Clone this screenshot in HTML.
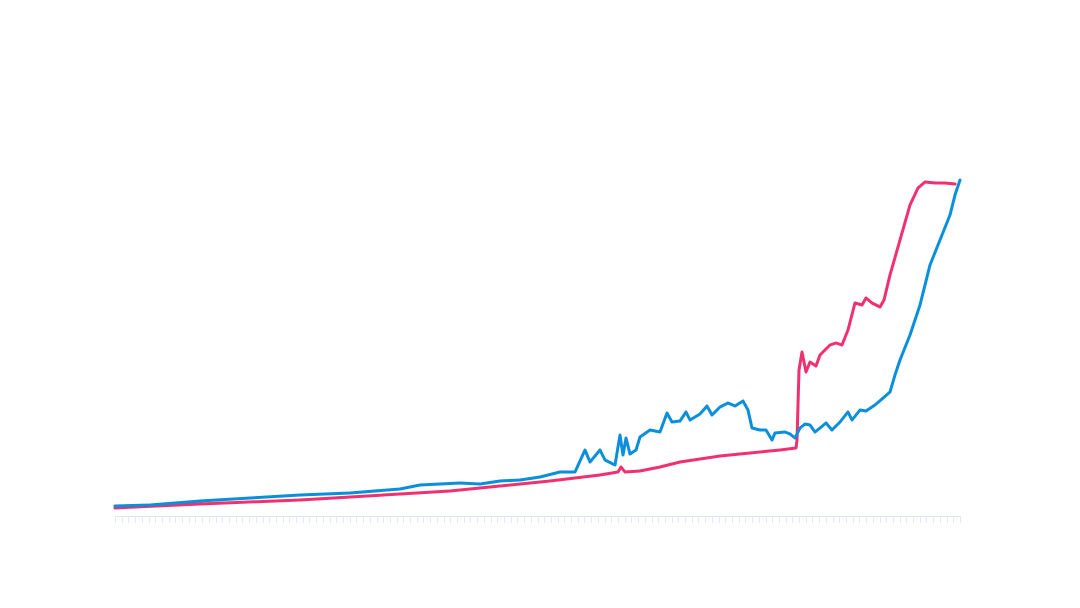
<!DOCTYPE html>
<html><head><meta charset="utf-8"><style>
html,body{margin:0;padding:0;background:#fff;}
svg{display:block;font-family:"Liberation Sans",sans-serif;}
</style></head><body>
<svg id="chart" width="1080" height="608">
  <g id="axis"></g>
  <g id="series"></g>
</svg>
<script>
const blueT = [0,35,85,135,185,235,285,305,325,345,365,385,405,425,445,460,470,475,485,490,500,505,508,511,515,521,525,535,545,552,557,565,571,575,585,592,597,605,613,620,628,633,637,645,651,657,660,670,675,680,685,690,695,700,705,711,717,725,733,737,745,751,760,767,775,780,785,795,805,815,825,835,840,845];
const blueV = [10,11,15,18,21,23,27,31,32,33,32,35,36,39,44,44,66,54,66,56,51,81,61,78,62,66,79,86,84,103,94,95,104,96,102,110,101,109,113,110,115,106,88,86,86,76,83,84,82,78,88,92,91,84,88,93,86,94,104,96,106,105,111,117,124,141,156,181,211,251,276,301,321,336];
const redT = [0,85,185,285,335,385,435,485,503,506,510,525,545,565,585,605,625,645,665,681,682,684,687,691,695,701,705,715,721,727,733,740,747,751,757,765,769,775,785,795,803,810,820,830,840];
const redV = [8,12,16,22,25,30,35,41,44,49,44,45,49,54,57,60,62,64,66,68,76,146,164,144,154,150,161,171,173,171,186,213,211,218,213,209,216,241,276,311,328,334,333,333,332];
const tMax = 845, vMax = 340;
const x0 = 115, x1 = 960, yBase = 516, yTop = 176;
const xS = t => x0 + (t / tMax) * (x1 - x0);
const yS = v => yBase - (v / vMax) * (yBase - yTop);
const NS = "http://www.w3.org/2000/svg";
const axis = document.getElementById('axis');
const bl = document.createElementNS(NS,'line');


bl.setAttribute('x1',x0);bl.setAttribute('x2',x1);bl.setAttribute('y1',516.5);bl.setAttribute('y2',516.5);
bl.setAttribute('stroke','#dfe5f0');bl.setAttribute('stroke-width','1');
axis.appendChild(bl);
const nTicks = 126;
for(let i=0;i<=nTicks;i++){
  const x = Math.round(x0 + i*(x1-x0)/nTicks)+0.5;
  const tk = document.createElementNS(NS,'line');
  
  
  tk.setAttribute('x1',x);tk.setAttribute('x2',x);tk.setAttribute('y1',516);tk.setAttribute('y2',523);
  tk.setAttribute('stroke','#e3e8f2');tk.setAttribute('stroke-width','1');
  axis.appendChild(tk);
}
function draw(T,V,color,name){
  const p = document.createElementNS(NS,'path');
  
  
  p.setAttribute('d', T.map((t,i)=>(i?'L':'M')+xS(t).toFixed(1)+','+yS(V[i]).toFixed(1)).join(''));
  p.setAttribute('fill','none');p.setAttribute('stroke',color);p.setAttribute('stroke-width','3');
  p.setAttribute('stroke-linejoin','round');p.setAttribute('stroke-linecap','round');
  document.getElementById('series').appendChild(p);
}
draw(redT,redV,'#f0306f','red-series-line');
draw(blueT,blueV,'#0a8fdb','blue-series-line');
</script>
</body></html>
